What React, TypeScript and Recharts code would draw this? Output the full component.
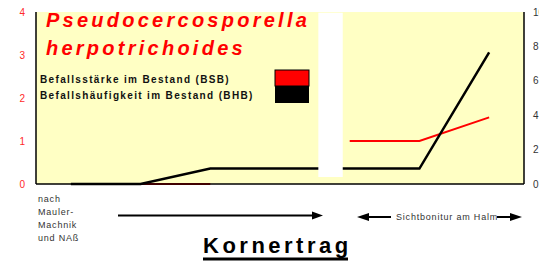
import React from 'react';
import { LineChart, Line, XAxis, YAxis, CartesianGrid, ReferenceArea } from 'recharts';

const xPositions = [0.5, 1.5, 2.5, 3.5, 4.5, 5.5, 6.5];
const bhbValues = [0, 0, 0.9, 0.9, 0.9, 0.9, 7.65];
const bsbValues: (number | null)[] = [null, 0, 0, null, 1, 1, 1.55];
const leftTicks = [0, 1, 2, 3, 4];
const rightTicks = [0, 2, 4, 6, 8, 10];
const maskBand = { x1: 4.05, x2: 4.4, y1: 0.16, y2: 3.98 };

const titleLines = ['Pseudocercosporella', 'herpotrichoides'];
const legendLabels = ['Befallsstärke im Bestand (BSB)', 'Befallshäufigkeit im Bestand (BHB)'];
const methodLines = ['nach', 'Mauler-', 'Machnik', 'und NAß'];
const sightLabel = 'Sichtbonitur am Halm';
const bottomTitle = 'Kornertrag';

const FONT = '"Liberation Sans", Arial, Helvetica, sans-serif';

export default function App() {
  const data = xPositions.map((x, i) => ({ x, bhb: bhbValues[i], bsb: bsbValues[i] }));
  return (
    <div style={{ position: 'absolute', left: 0, top: 0, width: 539, height: 262, background: '#fff', fontFamily: FONT }}>
      <LineChart width={539} height={262} data={data} margin={{ top: 12, right: 0, left: 0, bottom: 77 }}>
        <CartesianGrid fill="#ffffc4" horizontal={false} vertical={false} stroke="none" />
        <XAxis dataKey="x" type="number" domain={[0, 7]} tick={false} tickLine={false} height={1}
          axisLine={{ stroke: '#000', strokeWidth: 1.5 }} />
        <YAxis yAxisId="l" domain={[0, 4]} ticks={leftTicks} width={36} tickLine={false} tickMargin={5}
          axisLine={{ stroke: '#000', strokeWidth: 1.5 }}
          tick={{ fill: '#ff2a2a', fontSize: 10, fontFamily: FONT }} />
        <YAxis yAxisId="r" orientation="right" domain={[0, 10]} ticks={rightTicks} width={15} tickLine={false} tickMargin={3}
          axisLine={{ stroke: '#000', strokeWidth: 1.5 }}
          tick={{ fill: '#333', fontSize: 10, fontFamily: FONT }} />
        <Line yAxisId="l" dataKey="bsb" stroke="#ff0000" strokeWidth={2} dot={false} isAnimationActive={false} />
        <Line yAxisId="r" dataKey="bhb" stroke="#000" strokeWidth={2.5} dot={false} isAnimationActive={false} />
        <ReferenceArea yAxisId="l" x1={maskBand.x1} x2={maskBand.x2} y1={maskBand.y1} y2={maskBand.y2}
          fill="#ffffff" fillOpacity={1} stroke="none" zIndex={1000} />
      </LineChart>
      <svg width={539} height={262} style={{ position: 'absolute', left: 0, top: 0, pointerEvents: 'none' }}>
        <g fontFamily={FONT} fontWeight="bold" fontStyle="italic" fill="#ff0000" fontSize={20} letterSpacing={3.25}>
          <text x={46} y={27}>{titleLines[0]}</text>
          <text x={46} y={55}>{titleLines[1]}</text>
        </g>
        <g fontFamily={FONT} fontWeight="bold" fill="#111" fontSize={10} letterSpacing={1.35}>
          <text x={40} y={83}>{legendLabels[0]}</text>
          <text x={40} y={99}>{legendLabels[1]}</text>
        </g>
        <rect x={275} y={70} width={34} height={16} fill="#ff0000" stroke="#000" strokeWidth={1} />
        <rect x={275} y={86} width={34} height={17} fill="#000" />
        <g fontFamily={FONT} fill="#333" fontSize={9} letterSpacing={0.8}>
          {methodLines.map((t, i) => (
            <text key={t} x={38} y={202 + i * 13}>{t}</text>
          ))}
          <text x={396} y={220}>{sightLabel}</text>
        </g>
        <line x1={118} y1={215.5} x2={314} y2={215.5} stroke="#000" strokeWidth={2} />
        <polygon points="312,211.5 323,215.5 312,219.5" fill="#000" />
        <polygon points="357,217 369,213 369,221" fill="#000" />
        <line x1={368} y1={217} x2={391} y2={217} stroke="#000" strokeWidth={2} />
        <line x1={497} y1={217} x2={512} y2={217} stroke="#000" strokeWidth={2} />
        <polygon points="510,213 522,217 510,221" fill="#000" />
        <text x={203} y={253} fontFamily={FONT} fontWeight="bold" fontSize={22} letterSpacing={3.5} fill="#000">{bottomTitle}</text>
        <rect x={203} y={257.5} width={145} height={3} fill="#000" />
      </svg>
    </div>
  );
}
